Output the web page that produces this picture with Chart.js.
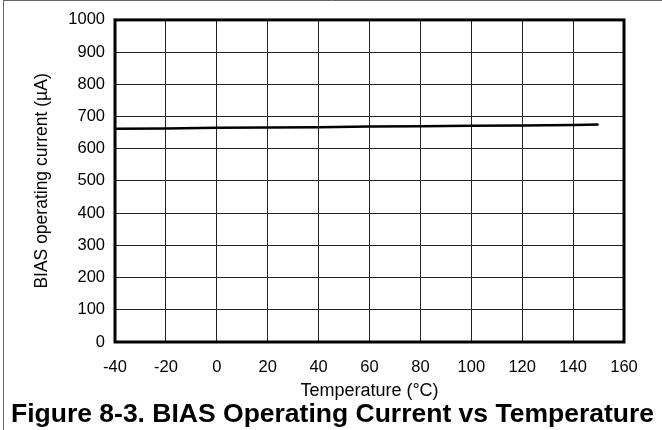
<!DOCTYPE html>
<html>
<head>
<meta charset="utf-8">
<script src="https://cdn.jsdelivr.net/npm/chart.js@4.4.0/dist/chart.umd.min.js"></script>
<style>
  html, body { margin: 0; padding: 0; background: #fff; }
  #wrap { position: relative; width: 662px; height: 430px; }
  #caption {
    position: absolute; left: 3px; right: 0; top: 400px;
    text-align: center; font: bold 26.5px/26px 'Liberation Sans', Arial, sans-serif;
    color: #000; white-space: nowrap;
  }
</style>
</head>
<body>
<div id="wrap">
  <canvas id="graphic1" width="662" height="430"></canvas>
  <div id="caption">Figure 8-3. BIAS Operating Current vs Temperature</div>
</div>
<script>
// temperature (°C) and BIAS operating current (µA)
var temps = [-40, -20, 0, 20, 40, 60, 80, 100, 120, 140, 150]
var current = [662, 663, 665, 666, 667, 669, 670, 671, 672, 674, 675]
var xTicks = [-40, -20, 0, 20, 40, 60, 80, 100, 120, 140, 160]
var yTicks = [0, 100, 200, 300, 400, 500, 600, 700, 800, 900, 1000]

var fontFamily = "'Liberation Sans', Arial, sans-serif"

// thick frame round the plot plus the page border on the left/top
var framePlugin = {
    id: "frame",
    afterDraw: function (chart) {
        var c = chart.ctx, a = chart.chartArea
        c.save()
        c.strokeStyle = "#000"
        c.lineWidth = 3
        c.strokeRect(a.left, a.top, a.right - a.left, a.bottom - a.top)
        c.strokeStyle = "#666"
        c.lineWidth = 1
        c.beginPath()
        c.moveTo(3.5, 0)
        c.lineTo(3.5, chart.height)
        c.moveTo(3, 0.5)
        c.lineTo(chart.width, 0.5)
        c.stroke()
        c.restore()
    }
}

var graph = new Chart(document.getElementById("graphic1").getContext("2d"), {
    type: "line",
    data: {
        datasets: [{
            data: temps.map(function (t, i) { return { x: t, y: current[i] } }),
            borderColor: "#000",
            borderWidth: 2.5,
            pointRadius: 0,
            tension: 0
        }]
    },
    options: {
        responsive: false,
        animation: false,
        layout: { padding: { left: 3, right: 38, top: 18, bottom: 30 } },
        plugins: {
            legend: { display: false },
            tooltip: { enabled: false },
            title: { display: false }
        },
        scales: {
            x: {
                type: "linear",
                min: -40,
                max: 160,
                afterBuildTicks: function (s) { s.ticks = xTicks.map(function (v) { return { value: v } }) },
                afterFit: function (s) { s.height = 58 },
                grid: { color: "#222", lineWidth: 1, drawTicks: false },
                border: { display: false },
                ticks: {
                    color: "#000", padding: 16, maxRotation: 0,
                    font: { family: fontFamily, size: 16.5 },
                    callback: function (v) { return String(v) }
                },
                title: {
                    display: true,
                    text: "Temperature (°C)",
                    color: "#000",
                    font: { family: fontFamily, size: 18, lineHeight: 1 },
                    padding: { top: 0, bottom: 0 }
                }
            },
            y: {
                min: 0,
                max: 1000,
                afterBuildTicks: function (s) { s.ticks = yTicks.map(function (v) { return { value: v } }) },
                afterFit: function (s) { s.width = 112 },
                grid: { color: "#222", lineWidth: 1, drawTicks: false },
                border: { display: false },
                ticks: {
                    color: "#000", padding: 10,
                    font: { family: fontFamily, size: 16.5 },
                    callback: function (v) { return String(v) }
                },
                title: {
                    display: true,
                    text: "BIAS operating current (µA)",
                    color: "#000",
                    font: { family: fontFamily, size: 17.5 },
                    padding: { top: 28.5, bottom: 0 }
                }
            }
        }
    },
    plugins: [framePlugin]
})
</script>
</body>
</html>
